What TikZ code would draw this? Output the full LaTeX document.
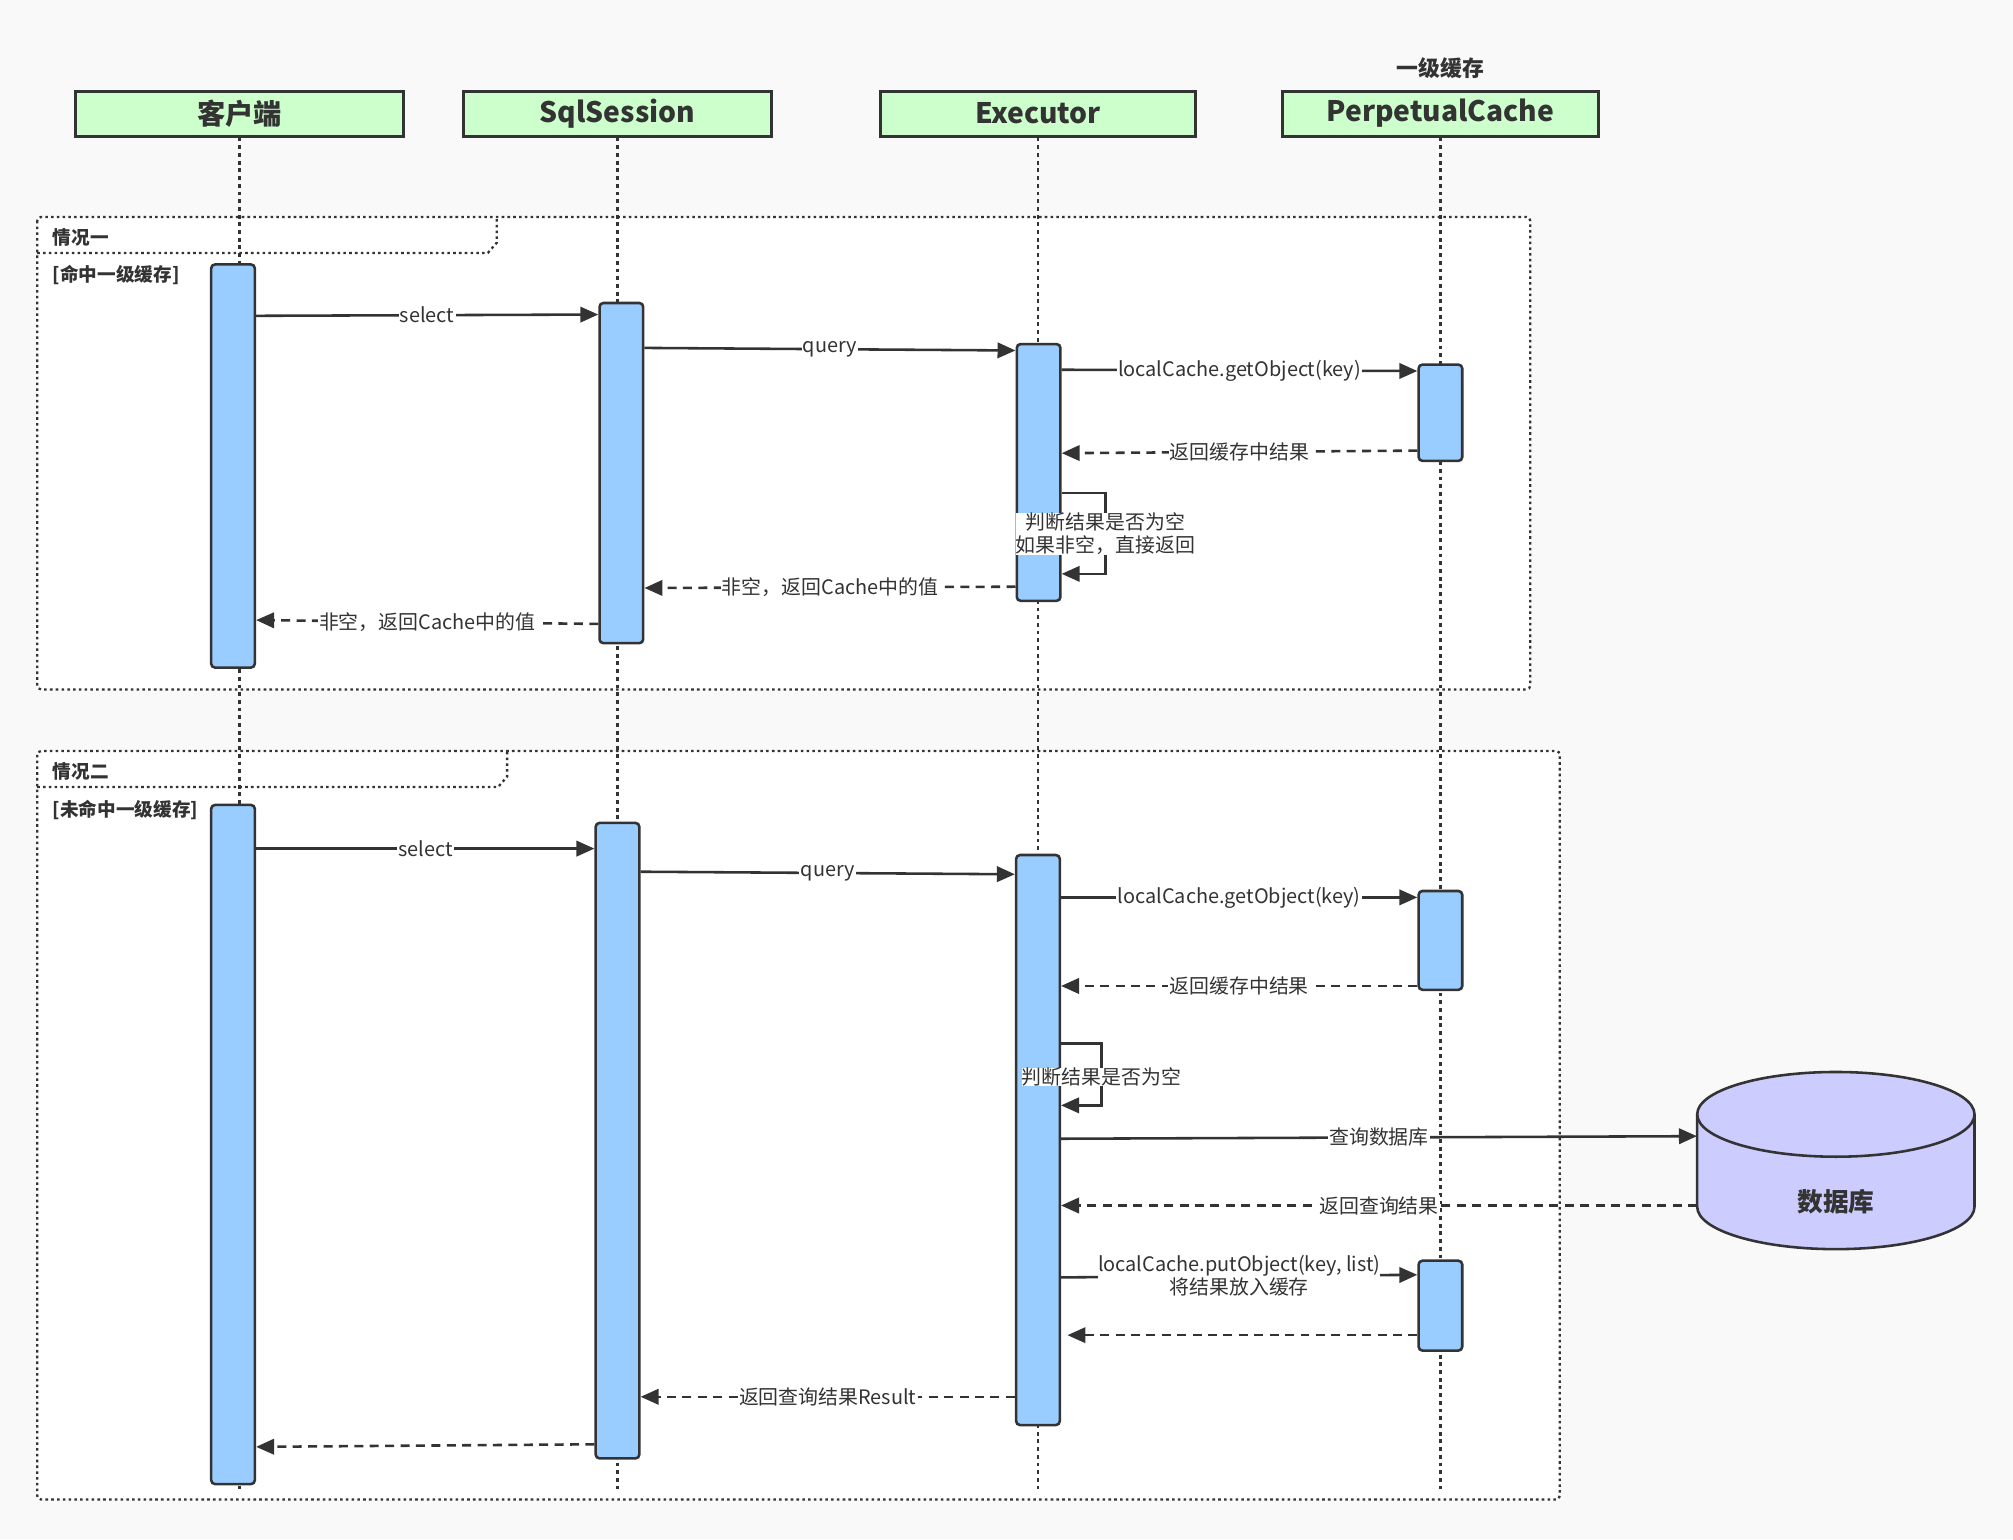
\documentclass[tikz,border=0pt]{standalone}
\usepackage{fontspec}
\setmainfont{Noto Sans CJK SC}
\usetikzlibrary{arrows.meta,calc}
\definecolor{bgcol}{HTML}{F9F9F9}
\definecolor{lc}{HTML}{333333}
\definecolor{hdrfill}{HTML}{CCFFCC}
\definecolor{barfill}{HTML}{99CCFF}
\definecolor{dbfill}{HTML}{CCCCFF}
\tikzset{
  hdr/.style={draw=lc, line width=2.4pt, fill=hdrfill, minimum width=#1, minimum height=35pt, inner sep=0pt, font=\fontsize{22}{25}\selectfont\bfseries, text=lc},
  bar/.style={draw=lc, line width=2pt, fill=barfill, minimum width=34pt, minimum height=#1, rounded corners=3pt, anchor=north, inner sep=0pt},
  life/.style={draw=lc, line width=1.8pt, dash pattern=on 3pt off 3pt},
  framebox/.style={draw=lc, line width=1.8pt, dash pattern=on 2pt off 2.5pt},
  msg/.style={draw=lc, line width=2pt, -{Triangle[length=14pt,width=12pt]}},
  ret/.style={msg, dash pattern=on 7pt off 5pt},
  lbl/.style={fill=white, inner sep=1pt, font=\fontsize{15.5}{18}\selectfont, text=lc, align=center},
  flbl/.style={anchor=west, inner sep=0pt, font=\fontsize{14.5}{16}\selectfont\bfseries, text=lc},
}
\begin{document}
\begin{tikzpicture}[x=1pt, y=-1pt]
\fill[bgcol] (0,0) rectangle (1568,1199);
\useasboundingbox (0,0) rectangle (1568,1199);
% frames (fill)
\fill[white, rounded corners=3pt] (29,169) rectangle (1192,537);
\fill[white, rounded corners=3pt] (29,585) rectangle (1215,1168);
% headers
\node[hdr=255pt] (h1) at (186.5,88.5) {客户端};
\node[hdr=240pt] (h2) at (481,88.5) {SqlSession};
\node[hdr=245pt] (h3) at (808.5,88.5) {Executor};
\node[hdr=246pt] (h4) at (1122,88.5) {PerpetualCache};
\node[font=\fontsize{17}{20}\selectfont\bfseries, text=lc] (h4t) at (1122,53) {一级缓存};
% lifelines
\coordinate (e1) at (186,1160);
\coordinate (e2) at (481,1160);
\coordinate (e3) at (808,1160);
\coordinate (e4) at (1122,1160);
\draw[life] (h1.south) -- (h1.south |- e1);
\draw[life] (h2.south) -- (h2.south |- e2);
\draw[life] (h3.south) -- (h3.south |- e3);
\draw[life] (h4.south) -- (h4.south |- e4);
% frame borders
\draw[framebox, rounded corners=3pt] (29,169) rectangle (1192,537);
\draw[framebox] (29,197) -- (380,197) -- (387,189) -- (387,169);
\node[flbl] (f1a) at (41,185) {情况一};
\node[flbl] (f1b) at (41,214) {[命中一级缓存]};
\draw[framebox, rounded corners=3pt] (29,585) rectangle (1215,1168);
\draw[framebox] (29,613) -- (388,613) -- (395,605) -- (395,585);
\node[flbl] (f2a) at (41,601) {情况二};
\node[flbl] (f2b) at (41,631) {[未命中一级缓存]};
% ---- frame 1 bars
\node[bar=314pt] (c1) at (181.5,205) {};
\node[bar=265pt] (s1) at (484,235) {};
\node[bar=200pt] (x1) at (809,267) {};
\node[bar=75pt] (p1) at (1122,283) {};
% frame 1 messages
\draw[msg] (c1.east |- 0,246) -- node[lbl] {select} (s1.west |- 0,245);
\draw[msg] (s1.east |- 0,271) -- node[lbl] {query} (x1.west |- 0,273);
\draw[msg] (x1.east |- 0,288) -- node[lbl] {localCache.getObject(key)} (p1.west |- 0,289);
\draw[ret] (p1.west |- 0,351) -- node[lbl] {返回缓存中结果} (x1.east |- 0,353);
\draw[msg] (x1.east |- 0,384) -- (861,384) -- (861,447) -- (x1.east |- 0,447);
\node[lbl, inner sep=0pt] (self1) at (861,416) {判断结果是否为空\\如果非空，直接返回};
\draw[ret] (x1.west |- 0,457) -- node[lbl] {非空，返回Cache中的值} (s1.east |- 0,458);
\draw[ret] (s1.west |- 0,486) -- node[lbl] {非空，返回Cache中的值} (c1.east |- 0,483);
% ---- frame 2 bars
\node[bar=529pt] (c2) at (181.5,626) {};
\node[bar=495pt] (s2) at (481,640) {};
\node[bar=444pt] (x2) at (808.5,665) {};
\node[bar=77pt] (p2) at (1122,693) {};
\node[bar=70pt] (p3) at (1122,981) {};
% database
\path[fill=dbfill, draw=lc, line width=2pt] (1322,868) -- (1322,940) arc[start angle=180, end angle=360, x radius=108pt, y radius=33pt] -- (1538,868) arc[start angle=0, end angle=180, x radius=108pt, y radius=33pt] -- cycle;
\draw[lc, line width=2pt] (1322,868) arc[start angle=180, end angle=360, x radius=108pt, y radius=33pt];
\node[minimum width=216pt, minimum height=138pt, inner sep=0pt] (db) at (1430,904) {};
\node[font=\fontsize{20}{24}\selectfont\bfseries, text=lc] (dbt) at (1430,936) {数据库};
% frame 2 messages
\draw[msg] (c2.east |- 0,661) -- node[lbl] {select} (s2.west |- 0,661);
\draw[msg] (s2.east |- 0,679) -- node[lbl] {query} (x2.west |- 0,681);
\draw[msg] (x2.east |- 0,699) -- node[lbl] {localCache.getObject(key)} (p2.west |- 0,699);
\draw[ret] (p2.west |- 0,768) -- node[lbl] {返回缓存中结果} (x2.east |- 0,768);
\draw[msg] (x2.east |- 0,813) -- (858,813) -- (858,861) -- (x2.east |- 0,861);
\node[lbl, inner sep=0pt] (self2) at (858,839) {判断结果是否为空};
\draw[msg] (x2.east |- 0,887) -- node[lbl] {查询数据库} (db.west |- 0,885);
\draw[ret] (db.west |- 0,939) -- node[lbl] {返回查询结果} (x2.east |- 0,939);
\draw[msg] (x2.east |- 0,995) -- node[lbl, inner sep=0pt] {localCache.putObject(key, list)\\将结果放入缓存} (p3.west |- 0,993);
\draw[ret] (p3.west |- 0,1040) -- ($(x2.east |- 0,1040)+(5,0)$);
\draw[ret] (x2.west |- 0,1088) -- node[lbl] {返回查询结果Result} (s2.east |- 0,1088);
\draw[ret] (s2.west |- 0,1125) -- (c2.east |- 0,1127);
\end{tikzpicture}
\end{document}
